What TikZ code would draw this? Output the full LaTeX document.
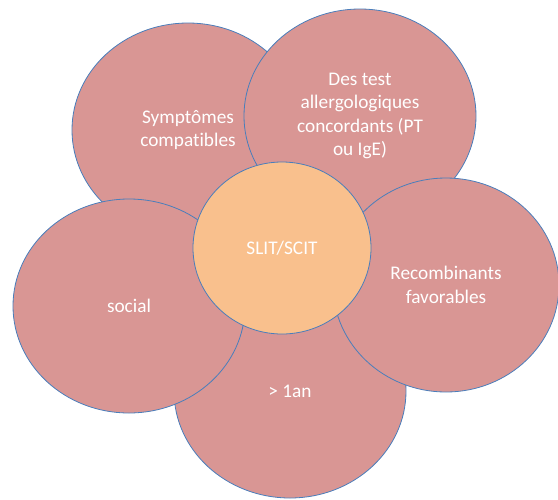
\documentclass[tikz,border=0pt]{standalone}
\usepackage{fontspec}
\setmainfont{Carlito}[Ligatures=NoCommon]
\usetikzlibrary{shapes.geometric}
\definecolor{petal}{HTML}{D99694}
\definecolor{core}{HTML}{F9C08D}
\definecolor{rim}{HTML}{4A7EBB}
\tikzset{
  petal/.style={ellipse, draw=rim, line width=0.8pt, fill=petal, inner sep=0pt,
    minimum width=232pt, minimum height=214pt, text=white, align=center,
    font=\fontsize{19.3}{23.5}\selectfont},
  corecircle/.style={petal, fill=core, minimum width=178pt, minimum height=172pt}
}
\begin{document}
\begin{tikzpicture}[x=1pt,y=-1pt]
\useasboundingbox (0,0) rectangle (558,499);
\node[petal] (sym) at (188,130) {Symptômes\\compatibles};
\node[petal] (des) at (360,116) {Des test\\allergologiques\\concordants (PT\\ou IgE)};
\node[petal] (an) at (290,391) {> 1an};
\node[petal, minimum width=226pt] (rec) at (446,285) {Recombinants\\favorables};
\node[petal] (soc) at (129,306) {social};
\node[corecircle] (slit) at (282,248) {SLIT/SCIT};
\end{tikzpicture}
\end{document}
